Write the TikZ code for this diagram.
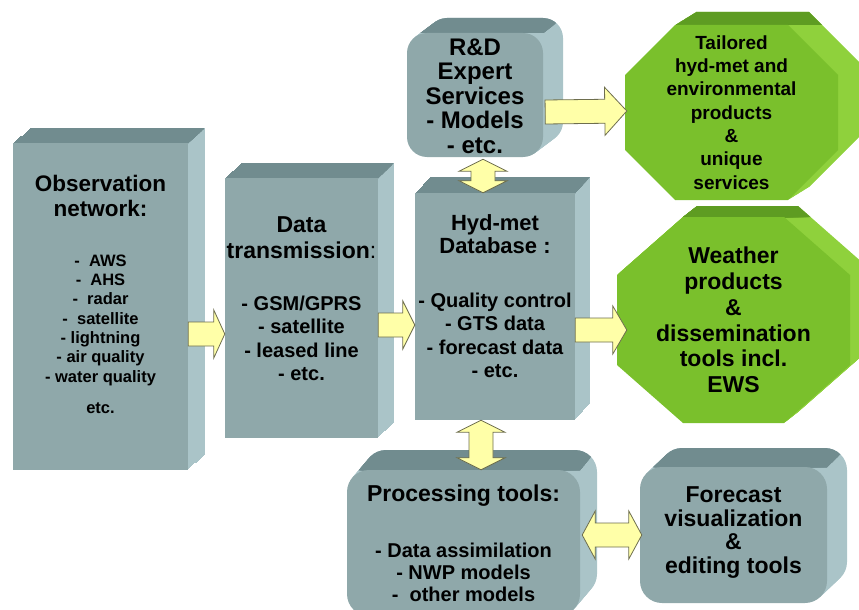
\documentclass[tikz,border=0pt]{standalone}
\usepackage{fontspec}
\setmainfont{Liberation Sans}
\usetikzlibrary{calc}

\definecolor{facegray}{HTML}{8FA8AA}
\definecolor{topgray}{HTML}{718C8F}
\definecolor{sidegray}{HTML}{AAC4C8}
\definecolor{facegreen}{HTML}{7AC02C}
\definecolor{topgreen}{HTML}{5E9C22}
\definecolor{sidegreen}{HTML}{8FD13C}
\definecolor{arrowfill}{HTML}{FFFFA8}
\definecolor{arrowline}{HTML}{6E6E4E}

\newcommand\sz[2]{\fontsize{#1}{#2}\selectfont}

\tikzset{
    slab/.style = {rectangle, inner sep=0pt, align=center},
    fat/.style = {fill=arrowfill, draw=arrowline, line width=0.8pt, line join=miter},
}

% octagon: x1, y1, x2, y2, cut x, cut y
\newcommand\octpath[6]{(#1+#5,#2) -- (#3-#5,#2) -- (#3,#2+#6) -- (#3,#4-#6) -- (#3-#5,#4) -- (#1+#5,#4) -- (#1,#4-#6) -- (#1,#2+#6) -- cycle}

% front path, dx, dy, right x, top y, top colour, side colour, front colour
\newcommand\extrude[8]{%
    \foreach \t in {1,...,16}
        \fill[#7, shift={(\t*#2/16,-\t*#3/16)}] #1;
    \begin{scope}
        \clip (#4,#5) -- ++(3*#2,-3*#3) -- (-100,#5-3*#3) -- (-100,#5) -- cycle;
        \foreach \t in {1,...,16}
            \fill[#6, shift={(\t*#2/16,-\t*#3/16)}] #1;
    \end{scope}
    \fill[#8] #1;
}

\newcommand\dropby[1]{\rule[-#1]{0pt}{0pt}}

% block arrows: [head length]{from}{to}
\newcommand\fatarrow[3][14pt]{%
    \coordinate (hb) at ($(#3)!#1!(#2)$);
    \draw[fat] ($(#2)!12pt!90:(#3)$) -- ($(hb)!12pt!90:(#3)$) -- ($(hb)!24pt!90:(#3)$) -- (#3)
        -- ($(hb)!24pt!-90:(#3)$) -- ($(hb)!12pt!-90:(#3)$) -- ($(#2)!12pt!-90:(#3)$) -- cycle;
}
\newcommand\dblarrow[3][12pt]{%
    \coordinate (ha) at ($(#2)!#1!(#3)$);
    \coordinate (hb) at ($(#3)!#1!(#2)$);
    \draw[fat] (#2) -- ($(ha)!24pt!90:(#3)$) -- ($(ha)!12pt!90:(#3)$) -- ($(hb)!12pt!-90:(#2)$)
        -- ($(hb)!24pt!-90:(#2)$) -- (#3) -- ($(hb)!24pt!90:(#2)$) -- ($(hb)!12pt!90:(#2)$)
        -- ($(ha)!12pt!-90:(#3)$) -- ($(ha)!24pt!-90:(#3)$) -- cycle;
}

\begin{document}
\begin{tikzpicture}[x=1pt, y=-1pt]

    \useasboundingbox (0,0) rectangle (859,610);

    % grey blocks
    \extrude{(13,143) rectangle (188,470)}{17}{15}{188}{143}{topgray}{sidegray}{facegray}
    \node[slab, minimum width=175pt, minimum height=327pt, font=\bfseries\sz{16.5}{19.3}] (obs) at (100.5,306.5)
        {\sz{22.5}{25}Observation\\[5.7pt]\sz{22.5}{25}network:\\[30.7pt]
         -\ \ AWS\\-\ \ AHS\\-\ \ radar\\-\ \ satellite\\- lightning\\- air quality\\- water quality\\[11.7pt]etc.\dropby{25pt}};

    \extrude{(225,178) rectangle (378,438)}{16}{15}{378}{178}{topgray}{sidegray}{facegray}
    \node[slab, minimum width=153pt, minimum height=260pt, font=\bfseries\sz{20}{23.3}] (data) at (301.5,308)
        {\sz{23}{26}Data\\[2.7pt]\sz{23}{26}transmission{\mdseries:}\\[28.7pt]
         - GSM/GPRS\\- satellite\\- leased line\\- etc.\dropby{19pt}};

    \extrude{(415,193) rectangle (575,420)}{15}{16}{575}{193}{topgray}{sidegray}{facegray}
    \node[slab, minimum width=160pt, minimum height=227pt, font=\bfseries\sz{20}{23.3}] (hyd) at (495,306.5)
        {\sz{22}{23}Hyd-met\\\sz{22}{23}Database :\\[30.7pt]
         - Quality control\\- GTS data\\- forecast data\\- etc.\dropby{21pt}};

    \extrude{[rounded corners=20pt] (407,33) rectangle (543,157)}{20}{15}{543}{33}{topgray}{sidegray}{facegray}
    \node[slab, minimum width=136pt, minimum height=124pt, font=\bfseries\sz{24}{24.5}] (rnd) at (475,96)
        {R\&D\\Expert\\Services\\- Models\\- etc.};

    \extrude{[rounded corners=22pt] (347,470) rectangle (580,616)}{17}{20}{580}{470}{topgray}{sidegray}{facegray}
    \node[slab, minimum width=233pt, minimum height=146pt, font=\bfseries\sz{20}{22}] (proc) at (463.5,543)
        {\sz{23}{25}Processing tools:\\[34pt]
         - Data assimilation\\- NWP models\\-\ \ other models};

    \extrude{[rounded corners=22pt] (640,467) rectangle (827,603)}{20}{19}{827}{467}{topgray}{sidegray}{facegray}
    \node[slab, minimum width=187pt, minimum height=136pt, font=\bfseries\sz{23}{23.7}] (fore) at (733.5,535)
        {Forecast\\visualization\\\&\\editing tools\dropby{10pt}};

    % green octagons
    \extrude{\octpath{625}{25}{838}{200}{50}{50}}{21}{13}{838}{25}{topgreen}{sidegreen}{facegreen}
    \node[slab, minimum width=213pt, minimum height=175pt, font=\bfseries\sz{19}{23.3}] (tail) at (731.5,112.5)
        {Tailored\\hyd-met and\\environmental\\products\\\&\\unique\\services};

    \extrude{\octpath{617}{217}{850}{423}{66}{58}}{14}{11}{850}{217}{topgreen}{sidegreen}{facegreen}
    \node[slab, minimum width=233pt, minimum height=206pt, font=\bfseries\sz{23}{25.8}] (weather) at (733.5,320)
        {Weather\\products\\\&\\dissemination\\tools incl.\\EWS};

    % arrows
    \fatarrow[11pt]{[yshift=-27.5pt]obs.east}{[yshift=-26pt]data.west}
    \fatarrow[12pt]{[yshift=-17pt]data.east}{[yshift=-18.5pt]hyd.west}
    \fatarrow[14pt]{[yshift=-23.5pt]hyd.east}{[xshift=10pt,yshift=-10pt]weather.west}
    \fatarrow[22pt]{[xshift=2pt,yshift=-16pt]rnd.east}{[xshift=2pt,yshift=1.5pt]tail.west}
    \dblarrow{[xshift=8pt,yshift=-1pt]rnd.south}{[xshift=-12pt]hyd.north}
    \dblarrow{[xshift=-14pt]hyd.south}{[xshift=17.5pt]proc.north}
    \dblarrow[13pt]{[xshift=2pt,yshift=8pt]proc.east}{[xshift=2pt]fore.west}

\end{tikzpicture}
\end{document}
